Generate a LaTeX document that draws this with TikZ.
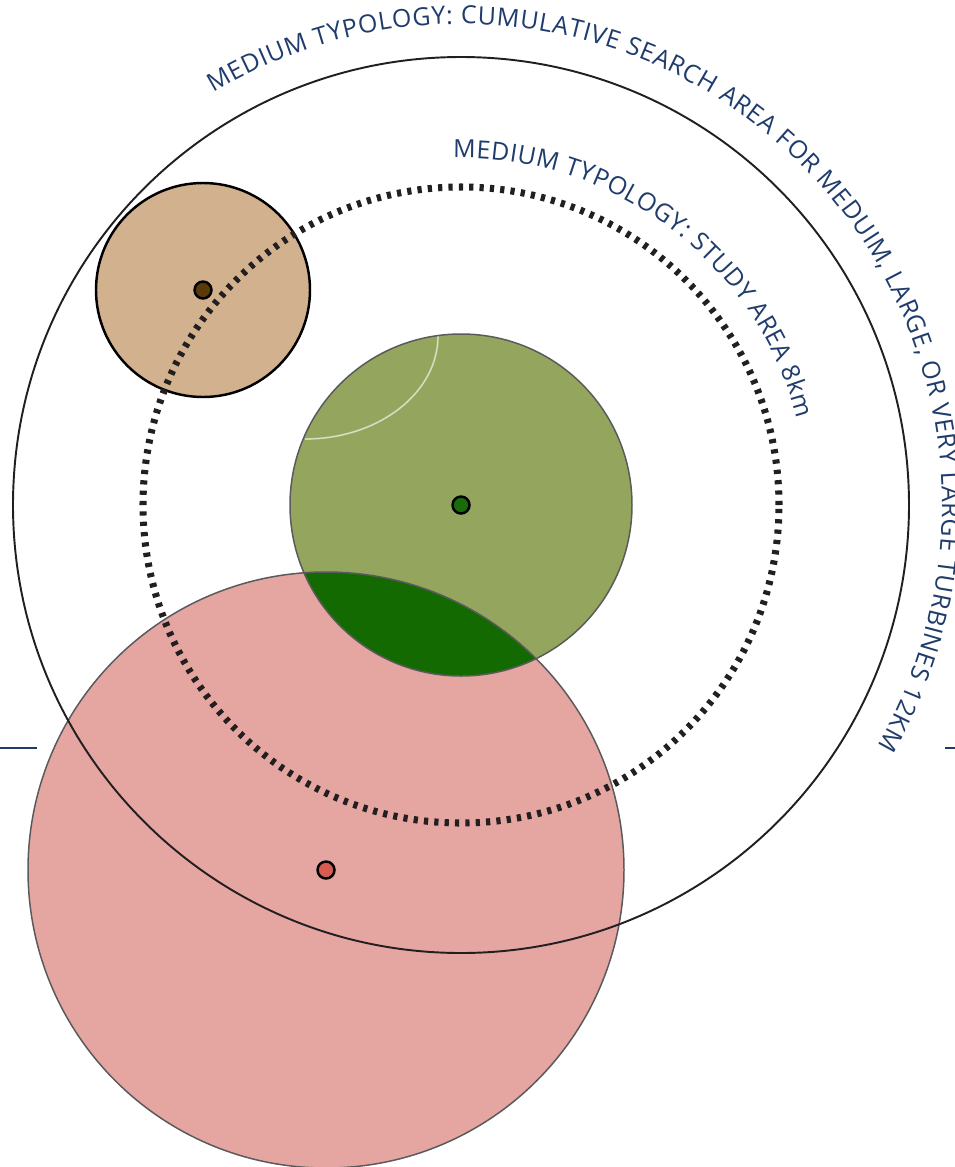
\documentclass[tikz,border=0pt]{standalone}
\usepackage{fontspec}
\setmainfont{Open Sans}
\usetikzlibrary{decorations.text}

\definecolor{navy}{HTML}{1F3C6C}
\definecolor{ink}{HTML}{231F20}
\definecolor{zonegray}{HTML}{5A5A5C}
\definecolor{tanfill}{HTML}{D2B18F}
\definecolor{olivefill}{HTML}{94A65E}
\definecolor{rosefill}{HTML}{E5A6A2}
\definecolor{deepgreen}{HTML}{136A00}
\definecolor{browndot}{HTML}{5A3A06}
\definecolor{greendot}{HTML}{1A6B0A}
\definecolor{reddot}{HTML}{D65B50}

\newcommand\ringfont{\fontsize{14.2}{17}\selectfont}

\tikzset{
  ring/.style={draw=ink,line width=1.1pt},
  studyring/.style={draw=ink,line width=4pt,dash pattern=on 2.4pt off 3.5pt},
  zone/.style={draw=zonegray,line width=0.85pt},
  turbine/.style={circle,draw=black,line width=1.4pt,minimum size=0.34cm,inner sep=0pt},
  arclabel/.style={decorate,decoration={text along path,
      text align=fit to path,text color=navy,text={#1}}}
}

\begin{document}
\begin{tikzpicture}[x=0.02cm,y=0.02cm]
  \useasboundingbox (0,0) rectangle (955,-1167);

  \coordinate (hub) at (461,-505);
  \coordinate (tan) at (203,-290);
  \coordinate (rose) at (326,-870);

  % zones
  \fill[rosefill] (rose) circle[radius=298];
  \fill[olivefill] (hub) circle[radius=171];
  \begin{scope}
    \clip (hub) circle[radius=171];
    \fill[deepgreen] (rose) circle[radius=298];
  \end{scope}
  \draw[white,opacity=0.45,line width=0.3pt,double,double distance=0.4pt]
    (438,-336) arc[start angle=0,end angle=-90,x radius=133,y radius=103];
  \draw[zone] (hub) circle[radius=171];
  \draw[zone] (rose) circle[radius=298];
  \filldraw[fill=tanfill,draw=black,line width=1.4pt] (tan) circle[radius=107];

  % 12km and 8km rings
  \draw[ring] (hub) circle[radius=448];
  \draw[studyring] (hub) circle[radius=318];

  % turbines
  \node[turbine,fill=browndot] (tandot) at (tan) {};
  \node[turbine,fill=greendot] (hubdot) at (hub) {};
  \node[turbine,fill=reddot] (rosedot) at (rose) {};

  % labels
  \begin{scope}
    \ringfont
    \path[arclabel={MEDIUM TYPOLOGY: CUMULATIVE SEARCH AREA FOR MEDUIM, LARGE, OR VERY LARGE TURBINES 12KM}]
      (hub) ++(121:481) arc[start angle=121,end angle=-30,radius=481];
    \path[arclabel={MEDIUM TYPOLOGY: STUDY AREA 8km}]
      (hub) ++(91.3:347) arc[start angle=91.3,end angle=14.5,radius=347];
  \end{scope}

  % edge ticks
  \coordinate (tickL1) at (0,-748);
  \coordinate (tickL2) at (37,-748);
  \coordinate (tickR1) at (945,-748);
  \coordinate (tickR2) at (955,-748);
  \draw[navy,line width=1.1pt] (tickL1) -- (tickL2);
  \draw[navy,line width=1.1pt] (tickR1) -- (tickR2);
\end{tikzpicture}
\end{document}
